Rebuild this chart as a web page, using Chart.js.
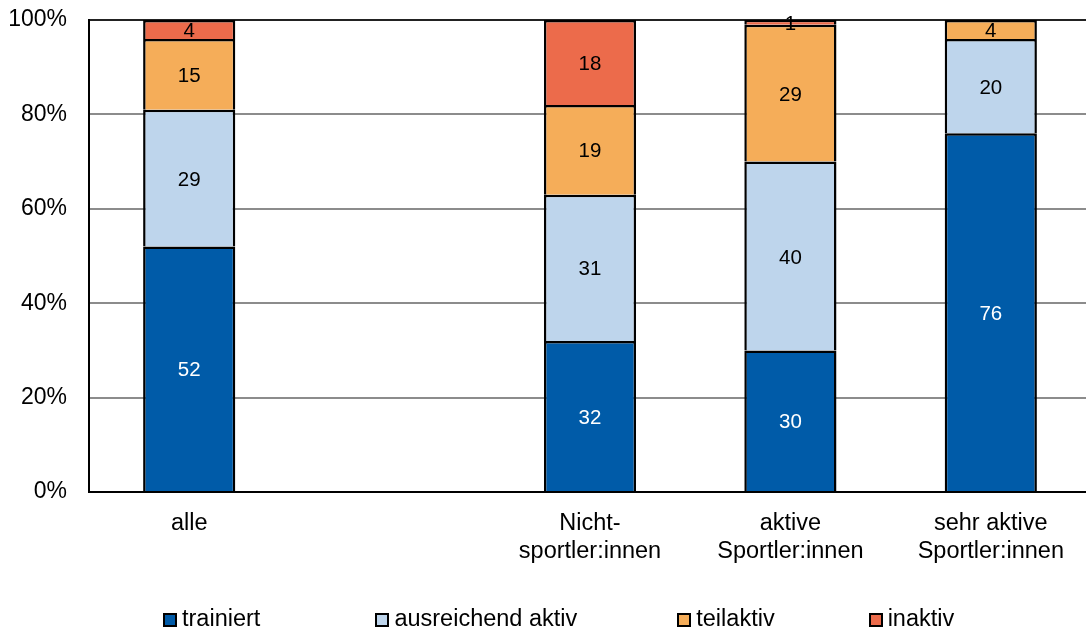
<!DOCTYPE html>
<html lang="de">
<head>
<meta charset="utf-8">
<script src="https://cdn.jsdelivr.net/npm/chart.js@4/dist/chart.umd.min.js"></script>
<style>
  html, body { margin: 0; padding: 0; background: #fff; overflow: hidden; }
  #wrap { position: relative; width: 1100px; height: 631px; }
  #chart { position: absolute; left: 0; top: 0; }
  #legend {
    position: absolute; left: 163px; top: 604px; height: 28px;
    display: flex; align-items: center;
    font-family: "Liberation Sans", Arial, sans-serif; font-size: 23.5px; color: #000;
  }
  .item { display: flex; align-items: center; }
  .swatch { width: 14px; height: 14px; box-sizing: border-box; border: 2px solid #000; margin-right: 5px; margin-top: 3px; }
</style>
</head>
<body>
<div id="wrap">
  <canvas id="chart" width="1100" height="631"></canvas>
  <div id="legend"></div>
</div>
<script>
// Gruppen (die leere Kategorie erzeugt die Lücke nach "alle")
const categories = [
  'alle',
  '',
  ['Nicht-', 'sportler:innen'],
  ['aktive', 'Sportler:innen'],
  ['sehr aktive', 'Sportler:innen']
];

// Anteile in Prozent je Aktivitätsstufe
const trainiert          = [52, null, 32, 30, 76];
const ausreichendAktiv   = [29, null, 31, 40, 20];
const teilaktiv          = [15, null, 19, 29, 4];
const inaktiv            = [4,  null, 18, 1,  0];

const seriesNames  = ['trainiert', 'ausreichend aktiv', 'teilaktiv', 'inaktiv'];
const seriesColors = ['#005BA8', '#BED5EC', '#F5AD59', '#EC6B4B'];
const labelColors  = ['#ffffff', '#000000', '#000000', '#000000'];

const yTicks = [0, 20, 40, 60, 80, 100];

const FONT = '"Liberation Sans", Arial, sans-serif';
Chart.defaults.font.family = FONT;
Chart.defaults.font.size = 23;
Chart.defaults.color = '#000';

const seriesValues = [trainiert, ausreichendAktiv, teilaktiv, inaktiv];

const datasets = seriesValues.map((values, i) => ({
  label: seriesNames[i],
  data: values,
  backgroundColor: seriesColors[i],
  borderColor: '#000',
  borderWidth: { top: 2.5, bottom: 0, left: 2.5, right: 2.5 },
  borderSkipped: false,
  barPercentage: 0.46,
  categoryPercentage: 1.0
}));

// Werte mittig in die Segmente schreiben
const segmentLabels = {
  id: 'segmentLabels',
  afterDatasetsDraw(chart) {
    const ctx = chart.ctx;
    ctx.save();
    ctx.font = '20.5px ' + FONT;
    ctx.textAlign = 'center';
    ctx.textBaseline = 'middle';
    chart.data.datasets.forEach((ds, di) => {
      const meta = chart.getDatasetMeta(di);
      meta.data.forEach((bar, idx) => {
        const v = ds.data[idx];
        if (v === null || v === 0) return;
        const props = bar.getProps(['x', 'y', 'base'], true);
        ctx.fillStyle = labelColors[di];
        ctx.fillText(String(v), props.x, (props.y + props.base) / 2 + 2);
      });
    });
    ctx.restore();
  }
};

new Chart(document.getElementById('chart'), {
  type: 'bar',
  data: { labels: categories, datasets },
  options: {
    responsive: false,
    animation: false,
    layout: { padding: { top: 20, right: 9, bottom: 0, left: 0 } },
    plugins: {
      legend: { display: false },
      tooltip: { enabled: false }
    },
    scales: {
      x: {
        stacked: true,
        grid: { display: false, drawTicks: false },
        border: { display: true, color: '#000', width: 2 },
        ticks: {
          padding: 18,
          maxRotation: 0,
          autoSkip: false,
          font: { size: 23.5, lineHeight: 1.17 }
        },
        afterFit(scale) { scale.height = 139; }
      },
      y: {
        stacked: true,
        min: 0,
        max: 100,
        afterBuildTicks(scale) { scale.ticks = yTicks.map(v => ({ value: v })); },
        grid: {
          drawTicks: false,
          color: ctx => (ctx.tick && ctx.tick.value === 100 ? '#222' : '#8c8c8c'),
          lineWidth: 2
        },
        border: { display: true, color: '#000', width: 2 },
        ticks: {
          padding: 22,
          font: { size: 23 },
          callback: v => v + '%'
        },
        afterFit(scale) {
          scale.width = 89;
          scale.paddingTop = 0;
          scale.paddingBottom = 0;
        }
      }
    }
  },
  plugins: [segmentLabels]
});

// Legende unter dem Diagramm
const gaps = [115, 100, 94, 0];
const legend = document.getElementById('legend');
seriesNames.forEach((name, i) => {
  const item = document.createElement('div');
  item.className = 'item';
  item.style.marginRight = gaps[i] + 'px';
  const sw = document.createElement('span');
  sw.className = 'swatch';
  sw.style.background = seriesColors[i];
  const tx = document.createElement('span');
  tx.textContent = name;
  item.appendChild(sw);
  item.appendChild(tx);
  legend.appendChild(item);
});
</script>
</body>
</html>
